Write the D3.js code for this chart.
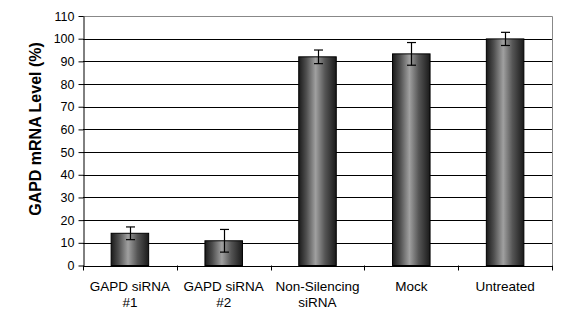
<!DOCTYPE html>
<html><head><meta charset="utf-8">
<script src="https://cdn.jsdelivr.net/npm/d3@7/dist/d3.min.js"></script>
<style>body{margin:0;background:#fff}svg{display:block}text{font-family:Arial,"Liberation Sans",sans-serif}</style>
</head><body>
<svg id="c" width="583" height="316"></svg>
<script>
const categories = [["GAPD siRNA","#1"],["GAPD siRNA","#2"],["Non-Silencing","siRNA"],["Mock"],["Untreated"]];
const values = [14.2, 10.9, 92.0, 93.3, 99.9];
const errors = [2.8, 5.0, 3.0, 5.0, 2.9];
const yTicks = [0,10,20,30,40,50,60,70,80,90,100,110];

const svg = d3.select("#c");
const m = {l:83, t:16, r:552, b:265.5};
const x = d3.scaleBand().domain(d3.range(categories.length)).range([m.l, m.r]).paddingInner(0.6).paddingOuter(0.3);
const xb = d3.scaleBand().domain(d3.range(categories.length)).range([m.l, m.r]);
const y = d3.scaleLinear().domain([0,110]).range([m.b, m.t]);

const defs = svg.append("defs");
const g = defs.append("linearGradient").attr("id","cyl").attr("x1","0").attr("x2","1").attr("y1","0").attr("y2","0");
[[0,"#1a1a1a"],[0.2,"#4e4e4e"],[0.45,"#a0a0a0"],[0.7,"#555"],[1,"#1a1a1a"]].forEach(([o,c])=>g.append("stop").attr("offset",o).attr("stop-color",c));

// gridlines
svg.append("g").selectAll("line").data(yTicks.filter(d=>d>0 && d<110)).join("line")
  .attr("x1",m.l).attr("x2",m.r).attr("y1",d=>Math.round(y(d))+0.5).attr("y2",d=>Math.round(y(d))+0.5)
  .attr("stroke","#000").attr("stroke-width",1);
// plot border (top and right gray)
svg.append("path").attr("d",`M${m.l},${Math.round(y(110))+0.5}H${m.r+0.5}V${m.b}`).attr("fill","none").attr("stroke","#888").attr("stroke-width",1);

// bars
svg.append("g").selectAll("rect").data(values).join("rect")
  .attr("x",(d,i)=>x(i)).attr("width",x.bandwidth())
  .attr("y",d=>y(d)).attr("height",d=>y(0)-y(d))
  .attr("fill","url(#cyl)").attr("stroke","#000").attr("stroke-width",1);

// error bars
const eb = svg.append("g").attr("stroke","#000").attr("stroke-width",1.2);
values.forEach((v,i)=>{
  const cx = Math.round(xb(i)+xb.bandwidth()/2)+0.5;
  eb.append("line").attr("x1",cx).attr("x2",cx).attr("y1",y(v+errors[i])).attr("y2",y(v-errors[i]));
  eb.append("line").attr("x1",cx-4.5).attr("x2",cx+4.5).attr("y1",y(v+errors[i])).attr("y2",y(v+errors[i]));
  eb.append("line").attr("x1",cx-4.5).attr("x2",cx+4.5).attr("y1",y(v-errors[i])).attr("y2",y(v-errors[i]));
});

// y axis
const ya = svg.append("g").attr("transform",`translate(${m.l+0.5},0)`)
  .call(d3.axisLeft(y).tickValues(yTicks).tickSize(5).tickSizeOuter(0).tickPadding(4));
ya.select(".domain").attr("stroke","#000");
ya.selectAll(".tick line").attr("stroke","#000");
ya.selectAll("text").attr("font-size","12.5px").attr("fill","#000").attr("font-family","Arial, 'Liberation Sans', sans-serif");

// x axis
svg.append("line").attr("x1",m.l).attr("x2",m.r).attr("y1",Math.round(m.b)+0.5).attr("y2",Math.round(m.b)+0.5).attr("stroke","#000");
svg.append("g").selectAll("line").data(d3.range(categories.length+1)).join("line")
  .attr("x1",i=>Math.round(m.l+i*xb.bandwidth())+0.5).attr("x2",i=>Math.round(m.l+i*xb.bandwidth())+0.5)
  .attr("y1",m.b).attr("y2",m.b+5).attr("stroke","#000");
const xl = svg.append("g").selectAll("text").data(categories).join("text")
  .attr("x",(d,i)=>xb(i)+xb.bandwidth()/2).attr("y",291)
  .attr("text-anchor","middle").attr("font-size","13.5px").attr("fill","#000");
xl.each(function(lines){
  const t=d3.select(this);
  lines.forEach((s,k)=>t.append("tspan").attr("x",t.attr("x")).attr("dy",k?16:0).text(s));
});

// y title
svg.append("text").attr("transform","translate(41,129) rotate(-90)").attr("text-anchor","middle")
  .attr("font-size","16px").attr("font-weight","bold").attr("fill","#000").text("GAPD mRNA Level (%)");
</script>
</body></html>
